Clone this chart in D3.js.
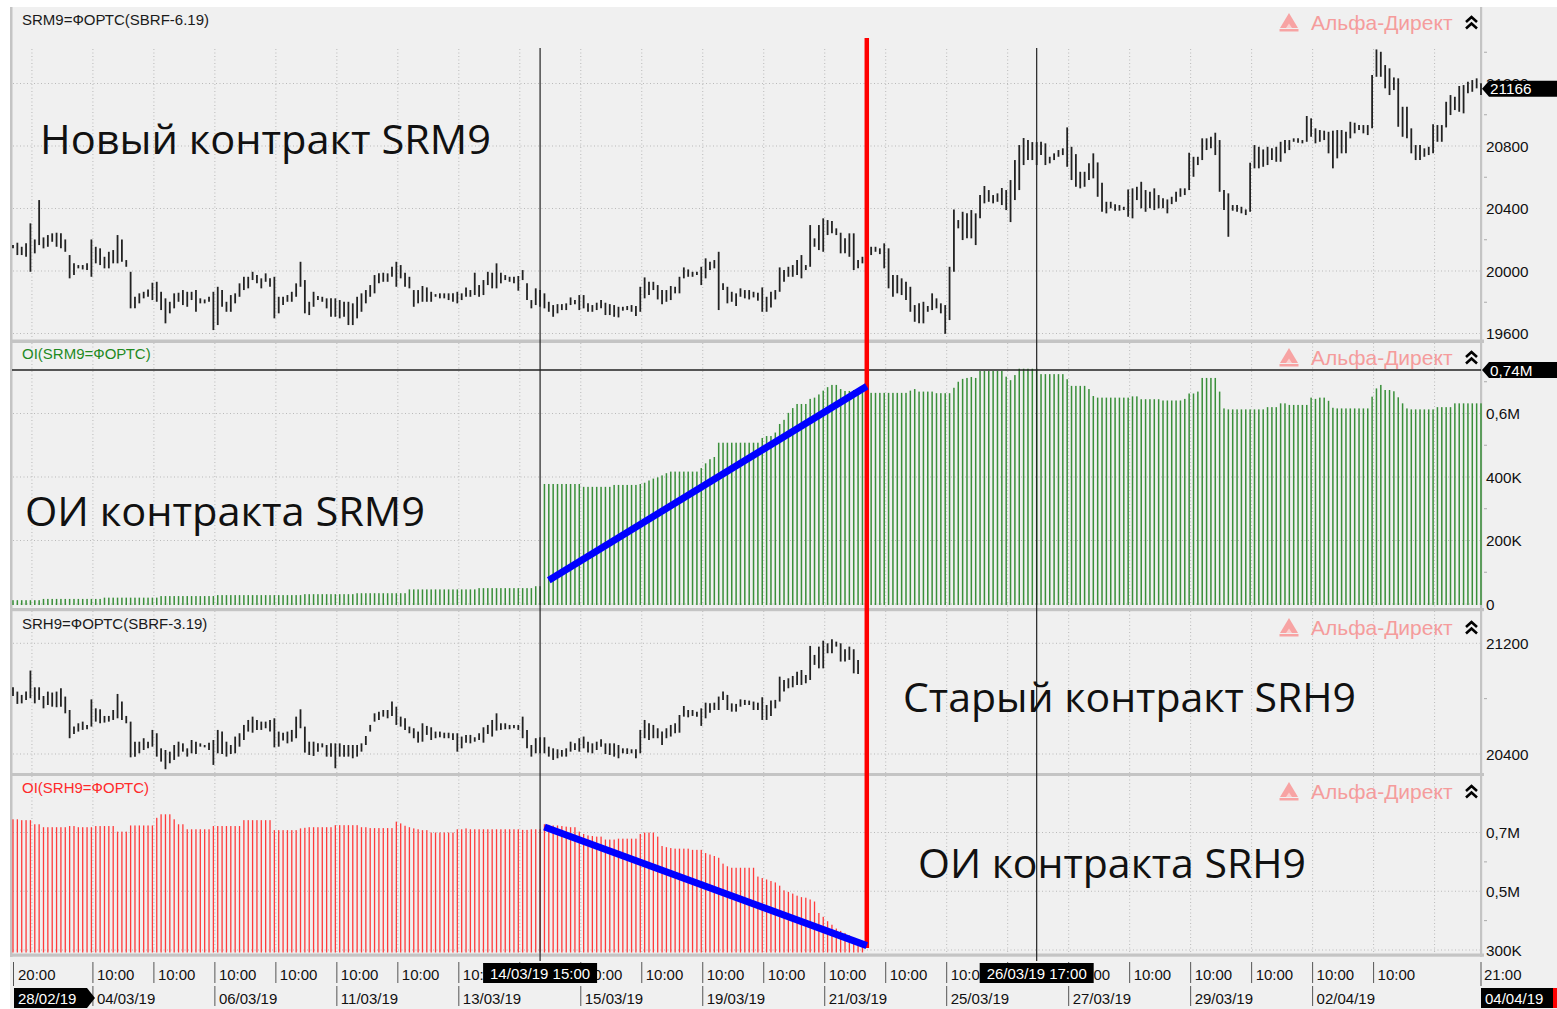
<!DOCTYPE html>
<html>
<head>
<meta charset="utf-8">
<script src="https://cdn.jsdelivr.net/npm/d3@7/dist/d3.min.js"></script>
<style>
  body { margin: 0; background: #fff; }
  svg { display: block; font-family: "Liberation Sans", Arial, sans-serif; }
</style>
</head>
<body>
<script>
// ---- categories: hourly bars of the trading days ----
const tradingDays = ['28/02/19','01/03/19','04/03/19','05/03/19','06/03/19','07/03/19','11/03/19','12/03/19',
  '13/03/19','14/03/19','15/03/19','18/03/19','19/03/19','20/03/19','21/03/19','22/03/19','25/03/19','26/03/19',
  '27/03/19','28/03/19','29/03/19','01/04/19','02/04/19','03/04/19','04/04/19'];
const dayOpen = 10, dayClose = 23, firstHour = 20, lastHour = 21;
const hiddenTimeLabels = ['01/03/19', '04/04/19'];
const dateLabels = ['04/03/19','06/03/19','11/03/19','13/03/19','15/03/19','19/03/19','21/03/19','25/03/19','27/03/19','29/03/19','02/04/19'];

// ---- SRM9 hourly high / low ----
const srm9High = [20166,20181,20155,20177,20305,20202,20454,20215,20230,20241,
 20245,20241,20202,20102,20049,20038,20038,20049,20202,20155,
 20145,20091,20123,20134,20230,20202,20070,19995,19835,19857,
 19867,19882,19925,19931,19867,19825,19803,19857,19861,19878,
 19867,19867,19878,19825,19818,19835,19867,19899,19878,19803,
 19846,19857,19921,19963,19963,19995,19974,19953,19985,19953,
 19963,19835,19835,19846,19867,19921,20059,19942,19803,19867,
 19840,19835,19825,19825,19825,19814,19803,19803,19793,19835,
 19857,19878,19910,19974,19985,19989,19985,20027,20059,20038,
 19989,19963,19878,19878,19904,19895,19867,19852,19857,19857,
 19857,19857,19867,19857,19895,19878,19989,19910,19942,19995,
 19989,20049,19989,19974,19963,19963,19968,20006,19921,19814,
 19889,19878,19857,19803,19782,19788,19788,19793,19831,19814,
 19846,19846,19793,19782,19797,19814,19797,19788,19782,19771,
 19771,19776,19782,19776,19899,19959,19931,19931,19910,19878,
 19878,19904,19899,19963,20023,20010,19995,19995,20027,20081,
 20059,20070,20123,19921,19899,19867,19857,19889,19878,19878,
 19867,19861,19895,19835,19867,19878,20023,20006,20027,20038,
 20070,20102,20038,20294,20209,20294,20337,20326,20320,20273,
 20245,20209,20241,20241,20070,20091,20155,20155,20155,20145,
 20177,20145,19974,19974,19953,19931,19899,19782,19793,19803,
 19776,19857,19825,19793,19782,20027,20394,20326,20379,20369,
 20390,20369,20486,20544,20518,20486,20497,20531,20518,20582,
 20710,20806,20851,20838,20825,20825,20827,20817,20731,20753,
 20774,20785,20919,20795,20748,20635,20635,20689,20753,20695,
 20565,20443,20443,20428,20422,20411,20522,20529,20539,20571,
 20518,20507,20529,20486,20465,20458,20475,20507,20529,20529,
 20757,20731,20731,20849,20849,20859,20885,20838,20518,20497,
 20422,20422,20411,20394,20693,20806,20795,20778,20795,20785,
 20795,20827,20838,20838,20849,20849,20838,20992,20977,20913,
 20902,20898,20891,20898,20902,20902,20891,20955,20949,20934,
 20934,20934,21254,21418,21403,21318,21297,21239,21233,21051,
 21051,20913,20806,20806,20785,20795,20940,20934,20934,21083,
 21126,21115,21184,21190,21211,21222,21233,21201];
const srm9Low = [20145,20102,20102,20091,19995,20113,20166,20145,20155,20187,
 20155,20145,20123,19953,19974,20017,20010,20006,19963,20049,
 20038,20017,20017,20049,20049,20059,20027,19761,19761,19793,
 19825,19835,19814,19803,19750,19665,19729,19761,19803,19782,
 19771,19814,19739,19793,19793,19803,19622,19654,19771,19739,
 19739,19793,19835,19878,19889,19942,19921,19889,19931,19899,
 19697,19729,19782,19803,19803,19835,19899,19729,19718,19771,
 19814,19803,19761,19707,19707,19697,19707,19654,19654,19697,
 19739,19793,19835,19857,19921,19931,19931,19963,19899,19953,
 19899,19889,19771,19793,19803,19803,19803,19835,19825,19825,
 19814,19803,19793,19814,19835,19835,19846,19835,19846,19910,
 19889,19889,19921,19942,19931,19921,19874,19942,19814,19761,
 19782,19771,19761,19739,19707,19729,19750,19750,19782,19788,
 19750,19761,19739,19739,19750,19761,19718,19718,19707,19703,
 19746,19750,19739,19712,19739,19825,19846,19878,19818,19788,
 19803,19814,19857,19857,19953,19963,19963,19974,19910,19953,
 20006,20017,19750,19878,19793,19803,19776,19835,19825,19818,
 19831,19810,19739,19739,19767,19818,19867,19931,19963,19963,
 19974,19953,20006,20027,20155,20134,20123,20230,20241,20230,
 20113,20113,20091,20006,20017,20049,20059,20102,20123,20108,
 20017,19889,19835,19857,19846,19814,19739,19675,19665,19665,
 19739,19750,19761,19729,19598,19686,19995,20273,20198,20209,
 20209,20166,20337,20433,20443,20433,20443,20422,20390,20313,
 20454,20518,20678,20710,20710,20678,20742,20678,20689,20710,
 20731,20742,20667,20582,20539,20529,20539,20582,20593,20475,
 20379,20369,20401,20386,20386,20390,20347,20337,20454,20401,
 20379,20401,20390,20401,20401,20369,20428,20443,20475,20486,
 20518,20603,20678,20710,20774,20785,20742,20507,20390,20219,
 20386,20379,20369,20358,20379,20657,20657,20667,20678,20710,
 20699,20699,20753,20774,20827,20821,20817,20827,20859,20817,
 20827,20838,20753,20657,20721,20753,20753,20849,20881,20902,
 20881,20870,20913,21243,21243,21169,21126,21158,20923,20859,
 20849,20753,20710,20710,20731,20742,20753,20827,20827,20919,
 20998,21030,21019,21009,21137,21147,21169,21126];

// ---- SRH9 hourly high / low (until expiry on 21/03) ----
const srh9High = [20882,20851,20827,20851,21003,20882,20882,20819,20851,20844,
 20851,20875,20815,20718,20598,20622,20634,20610,20795,20730,
 20723,20675,20675,20718,20834,20779,20675,20634,20489,20489,
 20514,20489,20574,20550,20441,20429,20417,20465,20489,20477,
 20441,20501,20489,20477,20465,20482,20501,20574,20562,20489,
 20465,20526,20550,20610,20646,20670,20646,20634,20634,20646,
 20658,20562,20554,20562,20574,20670,20723,20598,20489,20489,
 20477,20477,20465,20477,20477,20477,20465,20465,20465,20465,
 20477,20530,20610,20694,20706,20718,20718,20779,20742,20670,
 20658,20598,20586,20562,20622,20603,20593,20562,20562,20554,
 20554,20550,20550,20526,20538,20538,20521,20550,20593,20610,
 20646,20694,20622,20622,20610,20610,20610,20670,20574,20465,
 20514,20521,20521,20453,20441,20434,20429,20441,20489,20477,
 20514,20526,20489,20477,20489,20506,20477,20477,20477,20465,
 20441,20441,20434,20434,20574,20646,20622,20610,20586,20562,
 20586,20610,20622,20682,20747,20718,20718,20706,20730,20771,
 20766,20771,20815,20851,20827,20766,20762,20795,20791,20786,
 20779,20771,20810,20754,20786,20791,20959,20935,20947,20964,
 20995,21007,20971,21181,21116,21176,21219,21200,21229,21212,
 21200,21157,21176,21157,21080];
const srh9Low = [20819,20762,20766,20791,20803,20766,20791,20730,20754,20742,
 20738,20742,20694,20514,20545,20562,20574,20579,20598,20634,
 20622,20627,20634,20646,20658,20646,20622,20376,20381,20405,
 20429,20441,20453,20381,20345,20290,20333,20357,20381,20417,
 20381,20405,20400,20453,20448,20429,20321,20405,20400,20381,
 20400,20405,20453,20501,20562,20554,20574,20574,20586,20562,
 20448,20453,20497,20477,20489,20514,20586,20410,20393,20386,
 20417,20448,20381,20381,20297,20381,20381,20381,20369,20381,
 20417,20465,20562,20634,20646,20670,20658,20675,20610,20598,
 20574,20550,20514,20482,20489,20538,20501,20514,20521,20514,
 20514,20501,20417,20441,20482,20477,20489,20501,20482,20545,
 20526,20569,20574,20579,20579,20586,20574,20514,20441,20381,
 20405,20405,20405,20381,20357,20369,20381,20381,20417,20429,
 20417,20441,20410,20405,20429,20453,20400,20393,20381,20369,
 20405,20400,20405,20369,20405,20514,20501,20514,20514,20465,
 20514,20526,20550,20554,20670,20665,20675,20670,20603,20658,
 20699,20718,20718,20791,20718,20706,20706,20742,20754,20754,
 20718,20718,20646,20646,20675,20730,20779,20851,20875,20882,
 20899,20899,20911,20935,21044,21019,21019,21128,21128,21176,
 21068,21068,21080,20983,20978];

// ---- open interest, thousands of contracts ----
const oiSrm9 = [12,12,12,12,12,12,12,16,16,16,
 16,16,16,16,16,16,16,16,16,16,
 16,20,20,20,20,20,20,20,20,20,
 20,20,20,20,25,25,25,25,25,25,
 25,25,25,25,25,25,25,28,28,28,
 28,28,28,28,28,28,28,28,28,28,
 28,28,28,28,28,28,28,31,31,31,
 31,31,31,31,31,31,31,31,31,34,
 34,34,34,34,34,34,34,34,34,34,
 34,46,46,46,46,46,46,46,46,46,
 46,46,46,46,46,46,46,50,50,50,
 50,50,50,50,50,50,50,50,50,50,
 56,56,378,378,378,378,378,378,378,378,
 378,369,369,369,369,369,369,369,375,375,
 375,375,375,375,378,382,389,395,399,405,
 412,417,417,417,417,417,417,417,428,443,
 456,463,508,508,508,508,508,508,508,508,
 508,508,523,529,529,540,567,580,602,617,
 630,630,630,646,650,660,672,683,690,690,
 677,671,671,674,677,684,690,665,665,665,
 665,665,665,665,665,665,672,677,669,669,
 669,669,664,664,664,664,681,700,709,712,
 715,712,734,734,734,734,734,734,716,705,
 721,741,741,741,741,741,724,724,724,724,
 724,724,708,687,687,687,687,677,655,650,
 650,650,650,650,650,650,650,654,654,645,
 645,645,645,645,641,641,641,641,641,646,
 663,663,669,712,712,712,712,669,616,613,
 613,613,613,613,613,613,613,613,620,620,
 620,632,632,627,627,627,627,627,650,646,
 650,650,640,618,616,616,616,616,616,616,
 616,616,653,679,690,674,674,670,651,632,
 616,613,613,613,613,613,613,620,620,620,
 620,632,632,632,632,632,632,632];
const oiSrh9 = [745,745,742,742,742,728,728,718,718,718,
 718,718,718,722,722,718,718,718,718,722,
 722,722,722,722,703,703,703,724,724,724,
 724,724,724,750,762,762,762,745,728,728,
 711,711,711,711,711,711,722,722,722,722,
 722,722,722,742,742,742,742,742,742,742,
 708,708,708,708,708,708,714,716,718,718,
 718,718,718,718,725,725,725,725,725,725,
 718,718,715,715,715,715,715,715,737,731,
 723,718,714,711,708,708,700,700,700,700,
 700,700,711,711,714,711,711,711,711,711,
 711,711,711,711,711,711,711,709,709,711,
 711,711,728,726,724,724,722,720,718,718,
 703,695,690,688,686,686,676,676,676,679,
 679,679,679,679,695,700,700,700,686,654,
 650,647,645,645,645,645,641,641,641,630,
 625,620,614,594,585,580,580,580,580,580,
 580,550,545,540,535,530,519,503,498,492,
 485,480,478,472,465,426,413,398,386,373,
 365,358,350,340,330,319];

// ---- axis ticks ----
const p1Ticks = [19600, 20000, 20400, 20800, 21200];
const p2Ticks = [0, 200, 400, 600];
const p2TickLabels = ['0', '200K', '400K', '0,6M'];
const p3Ticks = [20400, 21200];
const p4Ticks = [300, 500, 700];
const p4TickLabels = ['300K', '0,5M', '0,7M'];
const lastPrice = 21166, lastPriceLabel = '21166';
const crossOI = 740, crossOILabel = '0,74M';
const crossBars = [{ day: '14/03/19', hour: 15 }, { day: '26/03/19', hour: 17 }];
const switchBar = { day: '21/03/19', hour: 20 };
// blue trend lines: [day, hour, OI thousands]
const trendNew = [['14/03/19', 17, 75], ['21/03/19', 20, 686]];
const trendOld = [['14/03/19', 16, 719], ['21/03/19', 20, 315]];

// build hourly bar list
const bars = [];
tradingDays.forEach((day, d) => {
  const h0 = d === 0 ? firstHour : dayOpen;
  const h1 = d === tradingDays.length - 1 ? lastHour : dayClose;
  for (let h = h0; h <= h1; h++) bars.push({ day, hour: h, d });
});
const barIndex = (day, hour) => bars.findIndex(b => b.day === day && b.hour === hour);
const dayStarts = bars.map((b, i) => ({ ...b, i })).filter((b, i) => i === 0 || bars[i - 1].day !== b.day);

const W = 1557, H = 1009;
const svg = d3.select('body').append('svg').attr('width', W).attr('height', H);
svg.append('rect').attr('x', 10).attr('y', 7).attr('width', W - 10).attr('height', H - 7).attr('fill', '#f0f0f0');

const x = d3.scaleLinear().domain([0, bars.length - 1]).range([13, 1481]);

const panels = [
  { top: 7, titleY: 25, gridTop: 49, bottom: 339.5, y: d3.scaleLinear().domain([19600, 21200]).range([333.5, 83.5]),
    ticks: p1Ticks, labels: p1Ticks.map(String), minor: [19800, 20200, 20600, 21000, 21400],
    title: 'SRM9=ФОРТС(SBRF-6.19)', titleColor: '#1a1a1a' },
  { top: 343, titleY: 359, gridTop: 343, bottom: 608, y: d3.scaleLinear().domain([0, 600]).range([604, 413.5]),
    ticks: p2Ticks, labels: p2TickLabels, minor: [100, 300, 500, 700],
    title: 'OI(SRM9=ФОРТС)', titleColor: '#1f8a1f' },
  { top: 611, titleY: 629, gridTop: 611, bottom: 773, y: d3.scaleLinear().domain([20400, 21200]).range([754, 643.3]),
    ticks: p3Ticks, labels: p3Ticks.map(String), minor: [20800],
    title: 'SRH9=ФОРТС(SBRF-3.19)', titleColor: '#1a1a1a' },
  { top: 776, titleY: 793, gridTop: 776, bottom: 953.5, y: d3.scaleLinear().domain([300, 700]).range([950, 832.5]),
    ticks: p4Ticks, labels: p4TickLabels, minor: [400, 600],
    title: 'OI(SRH9=ФОРТС)', titleColor: '#ff2a2a' }
];

// grids, titles, axis labels
panels.forEach(p => {
  const g = svg.append('g');
  g.selectAll('.vg').data(dayStarts.filter(b => b.i > 0)).enter().append('line')
    .attr('x1', b => x(b.i) + 1.5).attr('x2', b => x(b.i) + 1.5)
    .attr('y1', p.gridTop).attr('y2', p.bottom)
    .attr('stroke', '#b9b9b9').attr('stroke-dasharray', '1,2.5');
  g.selectAll('.hg').data(p.ticks).enter().append('line')
    .attr('x1', 13).attr('x2', 1481).attr('y1', d => p.y(d)).attr('y2', d => p.y(d))
    .attr('stroke', '#b9b9b9').attr('stroke-dasharray', '1,2.5');
  g.selectAll('.mt').data(p.minor.filter(d => p.y(d) > p.top + 5 && p.y(d) < p.bottom)).enter().append('line')
    .attr('x1', 1484).attr('x2', 1487).attr('y1', d => p.y(d)).attr('y2', d => p.y(d))
    .attr('stroke', '#aaa');
  g.selectAll('.tl').data(p.ticks).enter().append('text')
    .attr('x', 1486).attr('y', d => p.y(d)).attr('dy', '0.36em')
    .attr('font-size', 15.3).attr('fill', '#111')
    .text((d, i) => p.labels[i]);
  g.append('text').attr('x', 22).attr('y', p.titleY)
    .attr('font-size', 15).attr('fill', p.titleColor).text(p.title);
});

// panel frames
const frame = svg.append('g').attr('fill', '#c4c4c4');
[[339.5, 3.5], [608, 3.2], [773, 3], [953.5, 3.2]].forEach(([yy, h]) =>
  frame.append('rect').attr('x', 10).attr('y', yy).attr('width', 1474).attr('height', h));
frame.append('rect').attr('x', 10).attr('y', 7).attr('width', 2.5).attr('height', 950);
frame.append('rect').attr('x', 1480).attr('y', 7).attr('width', 2.2).attr('height', 950);

// watermarks
function watermark(cy) {
  const g = svg.append('g').attr('transform', `translate(0,${cy})`);
  g.append('path').attr('d', 'M1289,-9 L1298,6 L1280,6 Z').attr('fill', '#f7a3a3');
  g.append('path').attr('d', 'M1289,1.5 L1292,6 L1286,6 Z').attr('fill', '#fbd0d0');
  g.append('rect').attr('x', 1279.5).attr('y', 7).attr('width', 19).attr('height', 2.5).attr('fill', '#f7a3a3');
  g.append('text').attr('x', 1311).attr('y', 8).attr('font-size', 21).attr('fill', '#f59c9c').text('Альфа-Директ');
  g.append('path').attr('d', 'M1466,0 L1471.5,-5 L1477,0 M1466,6.5 L1471.5,1.5 L1477,6.5')
    .attr('stroke', '#000').attr('stroke-width', 2.6).attr('fill', 'none');
}
[22, 357, 627, 791].forEach(watermark);

// OHLC bars
const p1 = panels[0], p2 = panels[1], p3 = panels[2], p4 = panels[3];
svg.append('g').selectAll('line').data(srm9High).enter().append('line')
  .attr('x1', (d, i) => x(i)).attr('x2', (d, i) => x(i))
  .attr('y1', d => p1.y(d)).attr('y2', (d, i) => Math.max(p1.y(srm9Low[i]), p1.y(d) + 2))
  .attr('stroke', '#222').attr('stroke-width', 1.8);
svg.append('g').selectAll('line').data(srh9High).enter().append('line')
  .attr('x1', (d, i) => x(i)).attr('x2', (d, i) => x(i))
  .attr('y1', d => p3.y(d)).attr('y2', (d, i) => Math.max(p3.y(srh9Low[i]), p3.y(d) + 2))
  .attr('stroke', '#222').attr('stroke-width', 1.8);

// OI bars
svg.append('g').selectAll('rect').data(oiSrm9).enter().append('rect')
  .attr('x', (d, i) => x(i) - 0.75).attr('width', 1.5)
  .attr('y', d => p2.y(d)).attr('height', d => 605 - p2.y(d))
  .attr('fill', '#3a8f3a');
svg.append('g').selectAll('rect').data(oiSrh9).enter().append('rect')
  .attr('x', (d, i) => x(i) - 0.65).attr('width', 1.3)
  .attr('y', d => p4.y(d)).attr('height', d => 952.5 - p4.y(d))
  .attr('fill', '#ff3b3b');

// crosshair
crossBars.forEach(c => {
  const cx = x(barIndex(c.day, c.hour));
  svg.append('line').attr('x1', cx).attr('x2', cx).attr('y1', 48).attr('y2', 961)
    .attr('stroke', '#222').attr('stroke-width', 1.2);
});
svg.append('line').attr('x1', 12).attr('x2', 1481).attr('y1', p2.y(crossOI) + 1).attr('y2', p2.y(crossOI) + 1)
  .attr('stroke', '#222').attr('stroke-width', 1.5);

// value boxes on the right axis
function valueBox(yy, label) {
  svg.append('path').attr('d', `M1482,${yy} L1489,${yy - 8} L1557,${yy - 8} L1557,${yy + 8} L1489,${yy + 8} Z`).attr('fill', '#000');
  svg.append('text').attr('x', 1490).attr('y', yy).attr('dy', '0.36em').attr('font-size', 15.3).attr('fill', '#fff').text(label);
}
valueBox(p1.y(lastPrice), lastPriceLabel);
valueBox(p2.y(crossOI) + 1, crossOILabel);

// annotations: switch line and trend lines
const sx = x(barIndex(switchBar.day, switchBar.hour));
svg.append('line').attr('x1', sx).attr('x2', sx).attr('y1', 38).attr('y2', 948)
  .attr('stroke', '#ff0000').attr('stroke-width', 4.5);
const tn = trendNew.map(([d, h, v]) => [x(barIndex(d, h)), p2.y(v)]);
const to = trendOld.map(([d, h, v]) => [x(barIndex(d, h)), p4.y(v)]);
[tn, to].forEach(pts => svg.append('line')
  .attr('x1', pts[0][0]).attr('y1', pts[0][1]).attr('x2', pts[1][0]).attr('y2', pts[1][1])
  .attr('stroke', '#0000ff').attr('stroke-width', 7));

const notes = [
  { t: 'Новый контракт SRM9', x: 40, y: 154, w: 451 },
  { t: 'ОИ контракта SRM9', x: 25, y: 526, w: 400 },
  { t: 'Старый контракт SRH9', x: 903, y: 712, w: 453 },
  { t: 'ОИ контракта SRH9', x: 918, y: 878, w: 388 }
];
svg.append('g').selectAll('text').data(notes).enter().append('text')
  .attr('x', d => d.x).attr('y', d => d.y).attr('textLength', d => d.w).attr('lengthAdjust', 'spacingAndGlyphs')
  .attr('font-family', '"Open Sans", "Noto Sans", sans-serif').attr('font-size', 40).attr('fill', '#111')
  .text(d => d.t);

// time axis
const ax = svg.append('g');
const timeTicks = dayStarts.filter(b => b.i > 0 && !hiddenTimeLabels.includes(b.day));
ax.selectAll('.tt').data(timeTicks).enter().append('line')
  .attr('x1', b => x(b.i) + 1.5).attr('x2', b => x(b.i) + 1.5).attr('y1', 962).attr('y2', 983)
  .attr('stroke', '#555');
const timeTexts = ax.selectAll('.tx').data(timeTicks).enter().append('text')
  .attr('x', b => x(b.i) + 5.5).attr('y', 980).attr('font-size', 15).attr('fill', '#111')
  .text(b => String(b.hour).padStart(2, '0') + ':00');
const dateTicks = dayStarts.filter(b => dateLabels.includes(b.day));
ax.selectAll('.dt').data(dateTicks).enter().append('line')
  .attr('x1', b => x(b.i) + 1.5).attr('x2', b => x(b.i) + 1.5).attr('y1', 986).attr('y2', 1006)
  .attr('stroke', '#555');
ax.selectAll('.dx').data(dateTicks).enter().append('text')
  .attr('x', b => x(b.i) + 5.5).attr('y', 1004).attr('font-size', 15).attr('fill', '#111')
  .text(b => b.day);
// first and last bar labels
const b0 = bars[0], bl = bars[bars.length - 1];
ax.append('line').attr('x1', x(0) + 0.5).attr('x2', x(0) + 0.5).attr('y1', 962).attr('y2', 986).attr('stroke', '#555');
ax.append('text').attr('x', x(0) + 5).attr('y', 980).attr('font-size', 15).attr('fill', '#111').text(b0.hour + ':00');
ax.append('line').attr('x1', x(bars.length - 1)).attr('x2', x(bars.length - 1)).attr('y1', 962).attr('y2', 986).attr('stroke', '#555');
ax.append('text').attr('x', x(bars.length - 1) + 3).attr('y', 980).attr('font-size', 15).attr('fill', '#111').text(bl.hour + ':00');
ax.append('path').attr('d', `M${x(0) + 1},988 L${x(0) + 74},988 L${x(0) + 82},998 L${x(0) + 74},1008 L${x(0) + 1},1008 Z`).attr('fill', '#000');
ax.append('text').attr('x', x(0) + 5).attr('y', 1004).attr('font-size', 15).attr('fill', '#fff').text(b0.day);
ax.append('rect').attr('x', x(bars.length - 1)).attr('y', 988).attr('width', 72).attr('height', 20).attr('fill', '#000');
ax.append('rect').attr('x', x(bars.length - 1) + 72).attr('y', 988).attr('width', 4).attr('height', 20).attr('fill', '#ff0000');
ax.append('text').attr('x', x(bars.length - 1) + 4).attr('y', 1004).attr('font-size', 15).attr('fill', '#fff').text(bl.day);

// crosshair time boxes; labels under them keep only the characters that peek out
const boxSpans = crossBars.map(c => {
  const cx = x(barIndex(c.day, c.hour));
  return [cx - 57, cx + 57];
});
timeTexts.each(function () {
  const node = this, t = d3.select(this), s = node.textContent;
  const x0 = +t.attr('x'), x1 = x0 + node.getComputedTextLength();
  boxSpans.forEach(([b0x, b1x]) => {
    if (!node.parentNode || x1 <= b0x || x0 >= b1x) return;
    if (x0 >= b0x && x1 <= b1x) { t.remove(); return; }
    if (x0 < b0x) {
      let k = s.length;
      while (k > 0 && x0 + node.getSubStringLength(0, k) > b0x + 5) k--;
      t.text(s.slice(0, k));
    } else {
      let k = 0;
      while (k < s.length && x0 + node.getSubStringLength(0, k + 1) <= b1x + 2) k++;
      const nx = x0 + node.getSubStringLength(0, k);
      t.attr('x', nx).text(s.slice(k));
    }
  });
});
crossBars.forEach((c, j) => {
  const [bx0, bx1] = boxSpans[j];
  ax.append('rect').attr('x', bx0).attr('y', 963).attr('width', bx1 - bx0).attr('height', 20).attr('fill', '#000');
  ax.append('text').attr('x', (bx0 + bx1) / 2).attr('y', 979).attr('text-anchor', 'middle').attr('font-size', 15).attr('fill', '#fff')
    .text(`${c.day} ${c.hour}:00`);
});
</script>
</body>
</html>
